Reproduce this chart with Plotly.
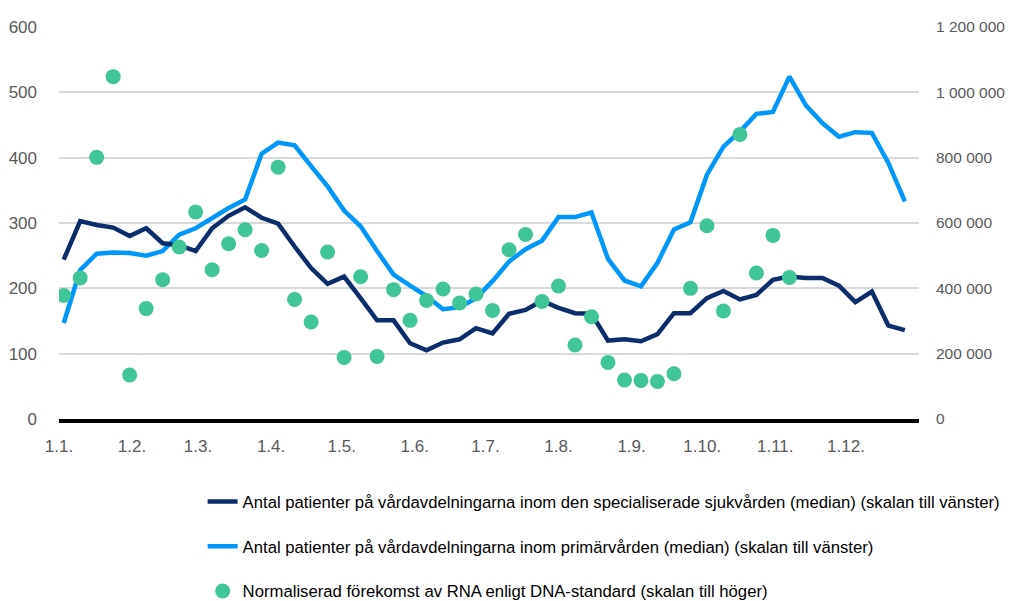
import datetime as dt
import plotly.graph_objects as go

# Weekly observation dates
start = dt.date(2021, 1, 3)
dates = [start + dt.timedelta(days=7 * i) for i in range(52)]

specialized = [244, 303, 297, 293, 280, 292, 269, 266, 257, 292, 311, 324, 308, 299, 264, 231,
               207, 218, 185, 151, 151, 116, 105, 117, 122, 139, 131, 161, 167, 181, 170, 162,
               161, 120, 122, 119, 130, 162, 162, 185, 196, 183, 190, 213, 218, 216, 216, 204,
               179, 195, 143, 136]

primary = [147, 228, 253, 255, 254, 250, 257, 282, 292, 308, 323, 336, 406, 423, 419, 387,
           356, 319, 295, 257, 221, 204, 188, 168, 171, 185, 211, 241, 260, 273, 309, 309,
           316, 245, 212, 203, 239, 290, 301, 374, 417, 440, 467, 470, 524, 480, 453, 432,
           439, 438, 392, 333]

rna = [378000, 432000, 801000, 1048000, 134700, 338000, 426500, 526500, 633700, 457000,
       536700, 579500, 516000, 771000, 366000, 297000, 511000, 188600, 435600, 191700,
       396000, 302000, 363000, 398000, 355000, 382700, 332500, 518300, 565000, 360000,
       407000, 226500, 313200, 173300, 119400, 118200, 115100, 138700, 400000, 591800,
       330700, 871300, 447000, 562000, 433500]

month_ticks = [dt.date(2021, m, 1) for m in range(1, 13)]
month_labels = [f"1.{m}." for m in range(1, 13)]
left_ticks = [0, 100, 200, 300, 400, 500, 600]
right_ticks = [0, 200000, 400000, 600000, 800000, 1000000, 1200000]
right_labels = ["0", "200 000", "400 000", "600 000", "800 000", "1 000 000", "1 200 000"]

names = [
    "Antal patienter på vårdavdelningarna inom den specialiserade sjukvården (median) (skalan till vänster)",
    "Antal patienter på vårdavdelningarna inom primärvården (median) (skalan till vänster)",
    "Normaliserad förekomst av RNA enligt DNA-standard (skalan till höger)",
]

FONT = "Liberation Sans Narrow, Liberation Sans, Arial, sans-serif"

fig = go.Figure()
fig.add_trace(go.Scatter(x=dates, y=primary, mode="lines", name=names[1],
                         legendgroup="b", legendrank=2,
                         line=dict(color="#0096FA", width=4.5)))
fig.add_trace(go.Scatter(x=dates, y=specialized, mode="lines", name=names[0],
                         legendgroup="a", legendrank=1,
                         line=dict(color="#0B2D6B", width=4.5)))
fig.add_trace(go.Scatter(x=dates[:len(rna)], y=rna, mode="markers", name=names[2],
                         yaxis="y2", legendgroup="c", legendrank=3,
                         marker=dict(color="#40C597", size=15)))

# The page body adds an 8px offset, so the figure is sized to fit the remaining window.
fig.update_layout(
    width=1006, height=593,
    margin=dict(l=51, r=95, t=19, b=182, autoexpand=False),
    paper_bgcolor="white", plot_bgcolor="white",
    font=dict(family=FONT, size=16, color="#000000"),
    showlegend=True,
    legend=dict(x=0.167, y=0.197, xref="paper", yref="container",
                xanchor="left", yanchor="top",
                orientation="v", tracegroupgap=20, traceorder="grouped",
                font=dict(family=FONT, size=16.7, color="#000000"),
                itemwidth=30, bgcolor="rgba(0,0,0,0)"),
    xaxis=dict(type="date", range=["2021-01-01", "2022-01-01"],
               tickvals=month_ticks, ticktext=month_labels, tickangle=0,
               showgrid=False, ticks="", showline=True, linecolor="#000000", linewidth=4,
               tickfont=dict(family=FONT, size=17, color="#595959"),
               ticklabelstandoff=9, zeroline=False, automargin=False),
    yaxis=dict(range=[0, 600], tickvals=left_ticks, showgrid=True, gridcolor="#D9D9D9",
               gridwidth=1.5, zeroline=False, ticks="",
               tickfont=dict(family=FONT, size=17, color="#595959"),
               ticklabelstandoff=21, automargin=False),
    yaxis2=dict(range=[0, 1200000], tickvals=right_ticks, ticktext=right_labels,
                overlaying="y", side="right", showgrid=False, zeroline=False, ticks="",
                tickfont=dict(family=FONT, size=15.5, color="#595959"),
                ticklabelstandoff=16, automargin=False),
)

fig.write_html("out.html")
